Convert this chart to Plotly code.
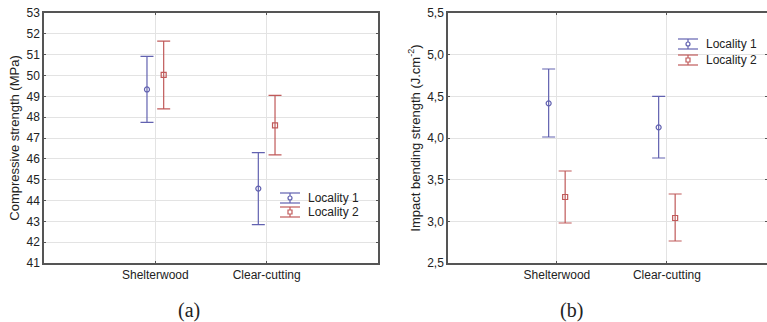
import plotly.graph_objects as go

categories = ["Shelterwood", "Clear-cutting"]

# Panel (a): Compressive strength (MPa)
comp_loc1_mean = [49.33, 44.57]
comp_loc1_upper = [50.92, 46.30]
comp_loc1_lower = [47.75, 42.84]
comp_loc2_mean = [50.03, 47.61]
comp_loc2_upper = [51.65, 49.05]
comp_loc2_lower = [48.40, 46.19]

# Panel (b): Impact bending strength (J.cm-2)
imp_loc1_mean = [4.416, 4.128]
imp_loc1_upper = [4.828, 4.50]
imp_loc1_lower = [4.012, 3.76]
imp_loc2_mean = [3.292, 3.04]
imp_loc2_upper = [3.604, 3.328]
imp_loc2_lower = [2.98, 2.764]

series_names = ["Locality 1", "Locality 2"]
BLUE = "#6262b0"
RED = "#c05a5a"
OFFSET = 0.075

fig = go.Figure()

def add_series(mean, upper, lower, color, symbol, shift, xa, ya):
    xs = [i + shift for i in range(len(categories))]
    fig.add_trace(go.Scatter(
        x=xs, y=mean, mode="markers",
        marker=dict(symbol=symbol, size=5, color=color, line=dict(width=1.2, color=color)),
        error_y=dict(type="data", symmetric=False,
                     array=[u - m for u, m in zip(upper, mean)],
                     arrayminus=[m - l for m, l in zip(mean, lower)],
                     color=color, thickness=1.2, width=6.5),
        xaxis=xa, yaxis=ya, showlegend=False, hoverinfo="skip"))

add_series(comp_loc1_mean, comp_loc1_upper, comp_loc1_lower, BLUE, "circle-open", -OFFSET, "x", "y")
add_series(comp_loc2_mean, comp_loc2_upper, comp_loc2_lower, RED, "square-open", OFFSET, "x", "y")
add_series(imp_loc1_mean, imp_loc1_upper, imp_loc1_lower, BLUE, "circle-open", -OFFSET, "x2", "y2")
add_series(imp_loc2_mean, imp_loc2_upper, imp_loc2_lower, RED, "square-open", OFFSET, "x2", "y2")

W, H = 767, 322
def px(x):
    return x / W
def py(y):
    return 1 - y / H

FONT = "Liberation Sans, Arial, sans-serif"
axis_common = dict(showline=True, mirror="ticks", linecolor="#555555", linewidth=1.5,
                   gridcolor="#e3e3e3", gridwidth=1, zeroline=False, automargin=False,
                   ticks="inside", ticklen=2, tickcolor="#555555",
                   tickfont=dict(family=FONT, size=12, color="#222222"))

ydom = [py(263), py(13)]

fig.update_layout(
    width=W, height=H, margin=dict(l=0, r=0, t=0, b=0),
    paper_bgcolor="white", plot_bgcolor="white", showlegend=False,
    xaxis=dict(domain=[px(44), px(378)], range=[-1, 2], tickvals=[0, 1], ticktext=categories,
               anchor="y", **axis_common),
    yaxis=dict(domain=ydom, range=[41, 53], dtick=1, anchor="x",
               title=dict(text="Compressive strength (MPa)", standoff=4,
                          font=dict(family=FONT, size=13, color="#222222")),
               **axis_common),
    xaxis2=dict(domain=[px(448), 1.0], range=[-0.99, 1.91], tickvals=[0, 1], ticktext=categories,
                anchor="y2", **axis_common),
    yaxis2=dict(domain=ydom, range=[2.5, 5.5], dtick=0.5, tickformat=".1f", anchor="x2",
                title=dict(text="Impact bending strength (J.cm<sup>-2</sup>)", standoff=4,
                           font=dict(family=FONT, size=13, color="#222222")),
                **axis_common),
    separators=",.",
)

# Custom legends mimicking error-bar icons
def legend(xc, y0, dy):
    shapes = []
    anns = []
    for i, (name, color, sym) in enumerate(zip(series_names, [BLUE, RED], ["circle-open", "square-open"])):
        yc = y0 + i * dy
        for yy in (yc - 5, yc + 5):
            shapes.append(dict(type="line", xref="paper", yref="paper",
                               x0=px(xc - 10), x1=px(xc + 10), y0=py(yy), y1=py(yy),
                               line=dict(color=color, width=1.2)))
        shapes.append(dict(type="line", xref="paper", yref="paper",
                           x0=px(xc), x1=px(xc), y0=py(yc - 5), y1=py(yc + 5),
                           line=dict(color=color, width=1.2)))
        shapes.append(dict(type="circle" if sym == "circle-open" else "rect",
                           xref="paper", yref="paper",
                           x0=px(xc - 2), x1=px(xc + 2), y0=py(yc - 2), y1=py(yc + 2),
                           line=dict(color=color, width=1.2), fillcolor="white"))
        anns.append(dict(text=name, xref="paper", yref="paper", x=px(xc + 16), y=py(yc),
                         xanchor="left", yanchor="middle", showarrow=False,
                         font=dict(family=FONT, size=12, color="#222222")))
    return shapes, anns

s1, a1 = legend(290, 198, 14)
s2, a2 = legend(688, 44, 16)

SERIF = "Liberation Serif, Times New Roman, serif"
captions = [
    dict(text="(a)", xref="paper", yref="paper", x=px(189), y=py(310), xanchor="center", yanchor="middle",
         showarrow=False, font=dict(family=SERIF, size=20, color="#222222")),
    dict(text="(b)", xref="paper", yref="paper", x=px(571), y=py(310), xanchor="center", yanchor="middle",
         showarrow=False, font=dict(family=SERIF, size=20, color="#222222")),
]

fig.update_layout(shapes=s1 + s2, annotations=a1 + a2 + captions)

fig.write_html("out.html", config={"displayModeBar": False},
               post_script="document.body.style.margin='0';")
